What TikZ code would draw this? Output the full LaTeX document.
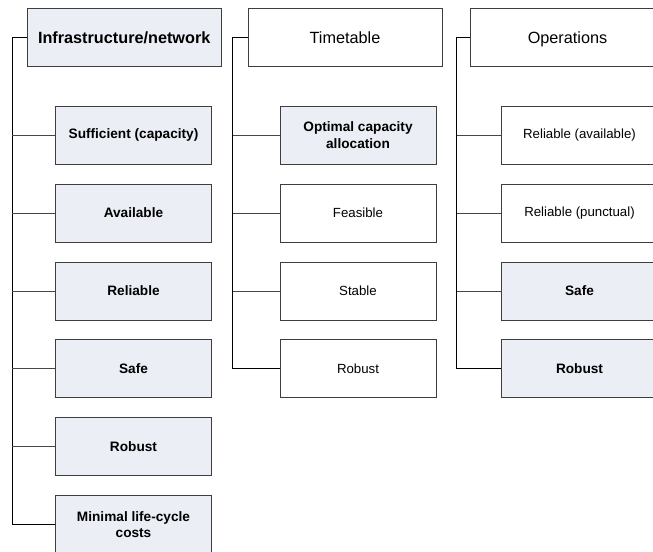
\documentclass[tikz,border=0pt]{standalone}
\usepackage{fontspec}
\setmainfont{Liberation Sans}
\definecolor{boxfill}{RGB}{235,238,245}
\definecolor{edge}{RGB}{62,62,62}
\definecolor{wire}{RGB}{70,70,70}
\begin{document}
\begin{tikzpicture}[x=1bp,y=-1bp,
  head/.style={draw=edge, line width=0.9bp, minimum width=194bp, minimum height=58.4bp,
    inner sep=0pt, text height=11.8bp, text depth=0.2bp, font=\fontsize{16.3}{19}\selectfont},
  item/.style={draw=edge, line width=0.9bp, minimum width=156bp, minimum height=58bp,
    inner sep=0pt, align=center, font=\fontsize{13.3}{16.6}\selectfont},
  hlhead/.style={fill=boxfill, font=\fontsize{16.3}{19}\selectfont\bfseries},
  hlitem/.style={fill=boxfill, font=\fontsize{13.7}{16.6}\selectfont\bfseries},
  trunk/.style={draw=black, line width=0.9bp},
  toplink/.style={draw=black, line width=1.4bp},
  branch/.style={draw=wire, line width=0.8bp}
]
\useasboundingbox (0,0) rectangle (653,552);
\clip (0,0) rectangle (653,552);

% column heads
\node[head,hlhead] (h1) at (124.2,37.5) {Infrastructure/network};
\node[head] (h2) at (345,37.5) {Timetable};
\node[head] (h3) at (567.5,37.5) {Operations};

% column 1: infrastructure
\node[item,hlitem] (a1) at (133.5,135) {Sufficient (capacity)};
\node[item,hlitem] (a2) at (133.5,213) {Available};
\node[item,hlitem] (a3) at (133.5,291) {Reliable};
\node[item,hlitem] (a4) at (133.5,368.7) {Safe};
\node[item,hlitem] (a5) at (133.5,446.7) {Robust};
\node[item,hlitem] (a6) at (133.5,524.5) {Minimal life-cycle\\costs};

% column 2: timetable
\node[item,hlitem] (b1) at (358,135) {Optimal capacity\\allocation};
\node[item] (b2) at (358,213) {Feasible};
\node[item] (b3) at (358,291) {Stable};
\node[item] (b4) at (358,368.7) {Robust};

% column 3: operations
\node[item] (c1) at (579.5,135) {Reliable (available)};
\node[item] (c2) at (579.5,213) {Reliable (punctual)};
\node[item,hlitem] (c3) at (579.5,291) {Safe};
\node[item,hlitem] (c4) at (579.5,368.7) {Robust};

% trunk corners beside each head
\coordinate (t1) at (12.3,37.5);
\coordinate (t2) at (232.8,37.5);
\coordinate (t3) at (456.7,37.5);

% column 1 tree
\draw[toplink] (h1.west) -- (t1);
\draw[trunk] (t1) |- (a6.west);
\foreach \n in {a1,a2,a3,a4,a5} \draw[branch] (t1 |- \n.west) -- (\n.west);

% column 2 tree
\draw[toplink] (h2.west) -- (t2);
\draw[trunk] (t2) |- (b4.west);
\foreach \n in {b1,b2,b3} \draw[branch] (t2 |- \n.west) -- (\n.west);

% column 3 tree
\draw[toplink] (h3.west) -- (t3);
\draw[trunk] (t3) |- (c4.west);
\foreach \n in {c1,c2,c3} \draw[branch] (t3 |- \n.west) -- (\n.west);
\end{tikzpicture}
\end{document}
